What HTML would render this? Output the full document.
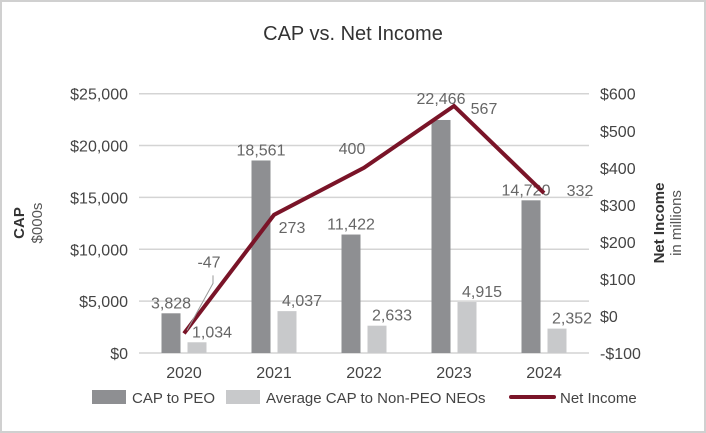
<!DOCTYPE html>
<html><head><meta charset="utf-8"><style>
body{margin:0;background:#fff;}
#wrap{position:relative;width:706px;height:433px;overflow:hidden;}
svg text{font-family:"Liberation Sans",sans-serif;}
</style></head><body>
<div id="wrap">
<svg id="chart" width="706" height="433" viewBox="0 0 706 433">
<rect x="1" y="1" width="704" height="431" fill="#fff" stroke="#d0d0d0" stroke-width="2"/>
<text x="353" y="40" font-size="20" text-anchor="middle" fill="#333">CAP vs. Net Income</text>
<g id="grid"></g><g id="bars"></g><g id="line"></g><g id="axes"></g>
<text transform="translate(24,223) rotate(-90)" text-anchor="middle" font-size="15" fill="#333"><tspan font-weight="bold">CAP</tspan></text>
<text transform="translate(42,223) rotate(-90)" text-anchor="middle" font-size="15" fill="#555">$000s</text>
<text transform="translate(664,223) rotate(-90)" text-anchor="middle" font-size="15" font-weight="bold" fill="#333">Net Income</text>
<text transform="translate(681,223) rotate(-90)" text-anchor="middle" font-size="15" fill="#555">in millions</text>
<g>
<rect x="92" y="390" width="34" height="14" fill="#8e8f92"/>
<text x="132" y="403" font-size="15" fill="#444">CAP to PEO</text>
<rect x="226" y="390" width="34" height="14" fill="#c8c9cb"/>
<text x="266" y="403" font-size="15" fill="#444">Average CAP to Non-PEO NEOs</text>
<line x1="511" y1="397" x2="554" y2="397" stroke="#7a1428" stroke-width="4" stroke-linecap="round"/>
<text x="560" y="403" font-size="15" fill="#444">Net Income</text>
</g>
</svg></div>
<script>
const years=["2020","2021","2022","2023","2024"];
const capPeo=[3828,18561,11422,22466,14720];
const capAvg=[1034,4037,2633,4915,2352];
const netIncome=[-47,273,400,567,332];
const leftTicks=[0,5000,10000,15000,20000,25000];
const rightTicks=[-100,0,100,200,300,400,500,600];
const NS="http://www.w3.org/2000/svg";
const x0=139,x1=589,band=(x1-x0)/years.length;
const yL=v=>353-v*(259.3/25000);
const yR=v=>316-v*(259.3/700);
const xc=i=>x0+band*(i+0.5);
function mk(tag,attrs,parent,text){const e=document.createElementNS(NS,tag);for(const k in attrs)e.setAttribute(k,attrs[k]);if(text!=null)e.textContent=text;document.getElementById(parent).appendChild(e);return e;}
const fmt=v=>v.toLocaleString("en-US");
leftTicks.forEach(t=>{
 let g=mk("line",{x1:x0,x2:x1,y1:yL(t),y2:yL(t),stroke:"#d4d4d4","stroke-width":1.5},"grid");
 
 let l=mk("text",{x:128,y:yL(t)+6,"text-anchor":"end","font-size":16,fill:"#444"},"axes","$"+fmt(t));
 
});
rightTicks.forEach(t=>{
 let l=mk("text",{x:600,y:yR(t)+6,"font-size":16,fill:"#444"},"axes",(t<0?"-$":"$")+Math.abs(t));
 
});
years.forEach((y,i)=>{
 let c=xc(i);
 let b=mk("rect",{x:c-22.5,y:yL(capPeo[i]),width:19,height:yL(0)-yL(capPeo[i]),fill:"#8e8f92"},"bars");
 
 let b2=mk("rect",{x:c+3.5,y:yL(capAvg[i]),width:19,height:yL(0)-yL(capAvg[i]),fill:"#c8c9cb"},"bars");
 
 let dy=(i==3)?-16:-5, dx=(i==4)?-18:-13;
 let t1=mk("text",{x:c+dx,y:yL(capPeo[i])+dy,"text-anchor":"middle","font-size":16,fill:"#666"},"bars",fmt(capPeo[i]));
 
 let t2=mk("text",{x:c+28,y:yL(capAvg[i])-5,"text-anchor":"middle","font-size":16,fill:"#666"},"bars",fmt(capAvg[i]));
 
 let xl=mk("text",{x:c,y:378,"text-anchor":"middle","font-size":16,fill:"#444"},"axes",y);
 
});
let pts=netIncome.map((v,i)=>xc(i)+","+yR(v)).join(" ");
let pl=mk("polyline",{points:pts,fill:"none",stroke:"#7a1428","stroke-width":4,"stroke-linejoin":"miter"},"line");

netIncome.forEach((v,i)=>{
 let x=xc(i)+18,y=yR(v)+18;
 if(i==0){x=xc(0)+25;y=yR(v)-66;
  let ld=mk("polyline",{points:(xc(0)+3)+","+(yR(v)-3)+" "+(xc(0)+29)+","+(yR(v)-50)+" "+(xc(0)+29)+","+(yR(v)-58),fill:"none",stroke:"#999","stroke-width":1},"line");
  }
 if(i==2){x=xc(i)-12;y=yR(v)-14;}
 if(i==3){x=xc(i)+30;y=yR(v)+8;}
 if(i==4){x=xc(i)+36;y=yR(v)+3;}
 let t=mk("text",{x:x,y:y,"text-anchor":"middle","font-size":16,fill:"#666"},"line",String(v));
 
});
</script>
</body></html>
